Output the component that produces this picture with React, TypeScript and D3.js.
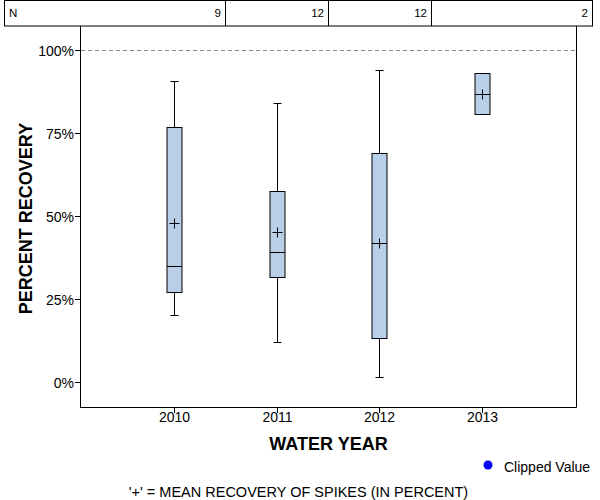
import React from "react";
import * as d3 from "d3";

const years = ["2010", "2011", "2012", "2013"];
const counts = [9, 12, 12, 2];
const whiskerLow: (number | null)[] = [20.1, 12.0, 1.4, null];
const q1 = [27.0, 31.5, 13.2, 80.6];
const median = [34.8, 39.1, 41.8, 86.8];
const q3 = [76.7, 57.4, 68.9, 93.0];
const whiskerHigh: (number | null)[] = [90.6, 83.9, 93.9, null];
const mean = [48.0, 45.1, 41.8, 86.8];
const yTicks = [0, 25, 50, 75, 100];

const W = 600;
const H = 500;
const plotLeft = 80;
const plotRight = 576;
const plotTop = 26;
const plotBottom = 407;
const FONT = "'Liberation Sans', Arial, sans-serif";
const FILL = "#b9cfe7";

export default function App() {
  const x = d3.scalePoint<string>().domain(years).range([plotLeft, plotRight]).padding(0.908);
  const y = d3.scaleLinear().domain([-7.5, 107.2]).range([plotBottom, plotTop]);
  const step = x.step();
  const boxHalf = 7.5;
  const capHalf = 4;
  const crossHalf = 5;

  const bounds = [4, ...years.slice(0, -1).map((yr) => (x(yr) as number) + step / 2), 592];

  return (
    <svg
      width={W}
      height={H}
      style={{ position: "absolute", left: 0, top: 0, background: "#fff" }}
      fontFamily={FONT}
    >
      <rect x={0} y={0} width={W} height={H} fill="#fff" />
      {/* N table */}
      <rect x={4.5} y={0.5} width={592 - 4} height={plotTop - 0.5} fill="none" stroke="#000" />
      {bounds.slice(1, -1).map((b, i) => (
        <line key={i} x1={Math.round(b) + 0.5} x2={Math.round(b) + 0.5} y1={0} y2={plotTop} stroke="#000" />
      ))}
      <text x={9} y={17} fontSize={11.5} fill="#000">N</text>
      {counts.map((c, i) => (
        <text key={i} x={Math.round(bounds[i + 1]) - 4} y={17} fontSize={11.5} textAnchor="end" fill="#000">
          {c}
        </text>
      ))}

      {/* plot frame */}
      <line x1={plotLeft + 0.5} x2={plotLeft + 0.5} y1={plotTop} y2={plotBottom + 0.5} stroke="#000" />
      <line x1={plotLeft} x2={plotRight + 0.5} y1={plotBottom + 0.5} y2={plotBottom + 0.5} stroke="#000" />
      <line x1={plotRight + 0.5} x2={plotRight + 0.5} y1={plotTop} y2={plotBottom + 0.5} stroke="#000" />

      {/* reference line at 100% */}
      <line
        x1={plotLeft + 1}
        x2={plotRight}
        y1={Math.round(y(100)) + 0.5}
        y2={Math.round(y(100)) + 0.5}
        stroke="#888"
        strokeDasharray="4,3"
      />

      {/* y ticks */}
      {yTicks.map((t) => {
        const yy = Math.round(y(t)) + 0.5;
        return (
          <g key={t}>
            <line x1={plotLeft - 5} x2={plotLeft} y1={yy} y2={yy} stroke="#000" />
            <text x={plotLeft - 6} y={yy + 5} fontSize={14} textAnchor="end" fill="#000">
              {t}%
            </text>
          </g>
        );
      })}

      {/* x ticks */}
      {years.map((yr) => {
        const xx = Math.round(x(yr) as number) + 0.5;
        return (
          <g key={yr}>
            <line x1={xx} x2={xx} y1={plotBottom} y2={plotBottom + 6} stroke="#000" />
            <text x={xx} y={422} fontSize={14} textAnchor="middle" fill="#000">
              {yr}
            </text>
          </g>
        );
      })}

      {/* boxes */}
      {years.map((yr, i) => {
        const cx = Math.round(x(yr) as number) + 0.5;
        const lo = whiskerLow[i];
        const hi = whiskerHigh[i];
        const yq1 = Math.round(y(q1[i])) + 0.5;
        const yq3 = Math.round(y(q3[i])) + 0.5;
        const ymed = Math.round(y(median[i])) + 0.5;
        const ymean = Math.round(y(mean[i])) + 0.5;
        return (
          <g key={yr} stroke="#000" strokeWidth={1} fill="none">
            {hi !== null && (
              <>
                <line x1={cx} x2={cx} y1={Math.round(y(hi)) + 0.5} y2={yq3} />
                <line x1={cx - capHalf} x2={cx + capHalf} y1={Math.round(y(hi)) + 0.5} y2={Math.round(y(hi)) + 0.5} />
              </>
            )}
            {lo !== null && (
              <>
                <line x1={cx} x2={cx} y1={yq1} y2={Math.round(y(lo)) + 0.5} />
                <line x1={cx - capHalf} x2={cx + capHalf} y1={Math.round(y(lo)) + 0.5} y2={Math.round(y(lo)) + 0.5} />
              </>
            )}
            <rect x={cx - boxHalf} y={yq3} width={boxHalf * 2} height={yq1 - yq3} fill={FILL} />
            <line x1={cx - boxHalf} x2={cx + boxHalf} y1={ymed} y2={ymed} />
            <line x1={cx - crossHalf} x2={cx + crossHalf} y1={ymean} y2={ymean} />
            <line x1={cx} x2={cx} y1={ymean - crossHalf} y2={ymean + crossHalf} />
          </g>
        );
      })}

      {/* axis titles */}
      <text
        transform={`translate(31.5,218.5) rotate(-90)`}
        fontSize={18}
        fontWeight="bold"
        textAnchor="middle"
        fill="#000"
      >
        PERCENT RECOVERY
      </text>
      <text x={328.5} y={449.5} fontSize={18} fontWeight="bold" textAnchor="middle" fill="#000">
        WATER YEAR
      </text>

      {/* legend */}
      <circle cx={488} cy={465} r={4.5} fill="#0000ff" />
      <text x={504} y={471.5} fontSize={14} fill="#000">Clipped Value</text>

      {/* footnote */}
      <text x={298.5} y={497} fontSize={14.5} textAnchor="middle" fill="#000">
        '+' = MEAN RECOVERY OF SPIKES (IN PERCENT)
      </text>
    </svg>
  );
}
